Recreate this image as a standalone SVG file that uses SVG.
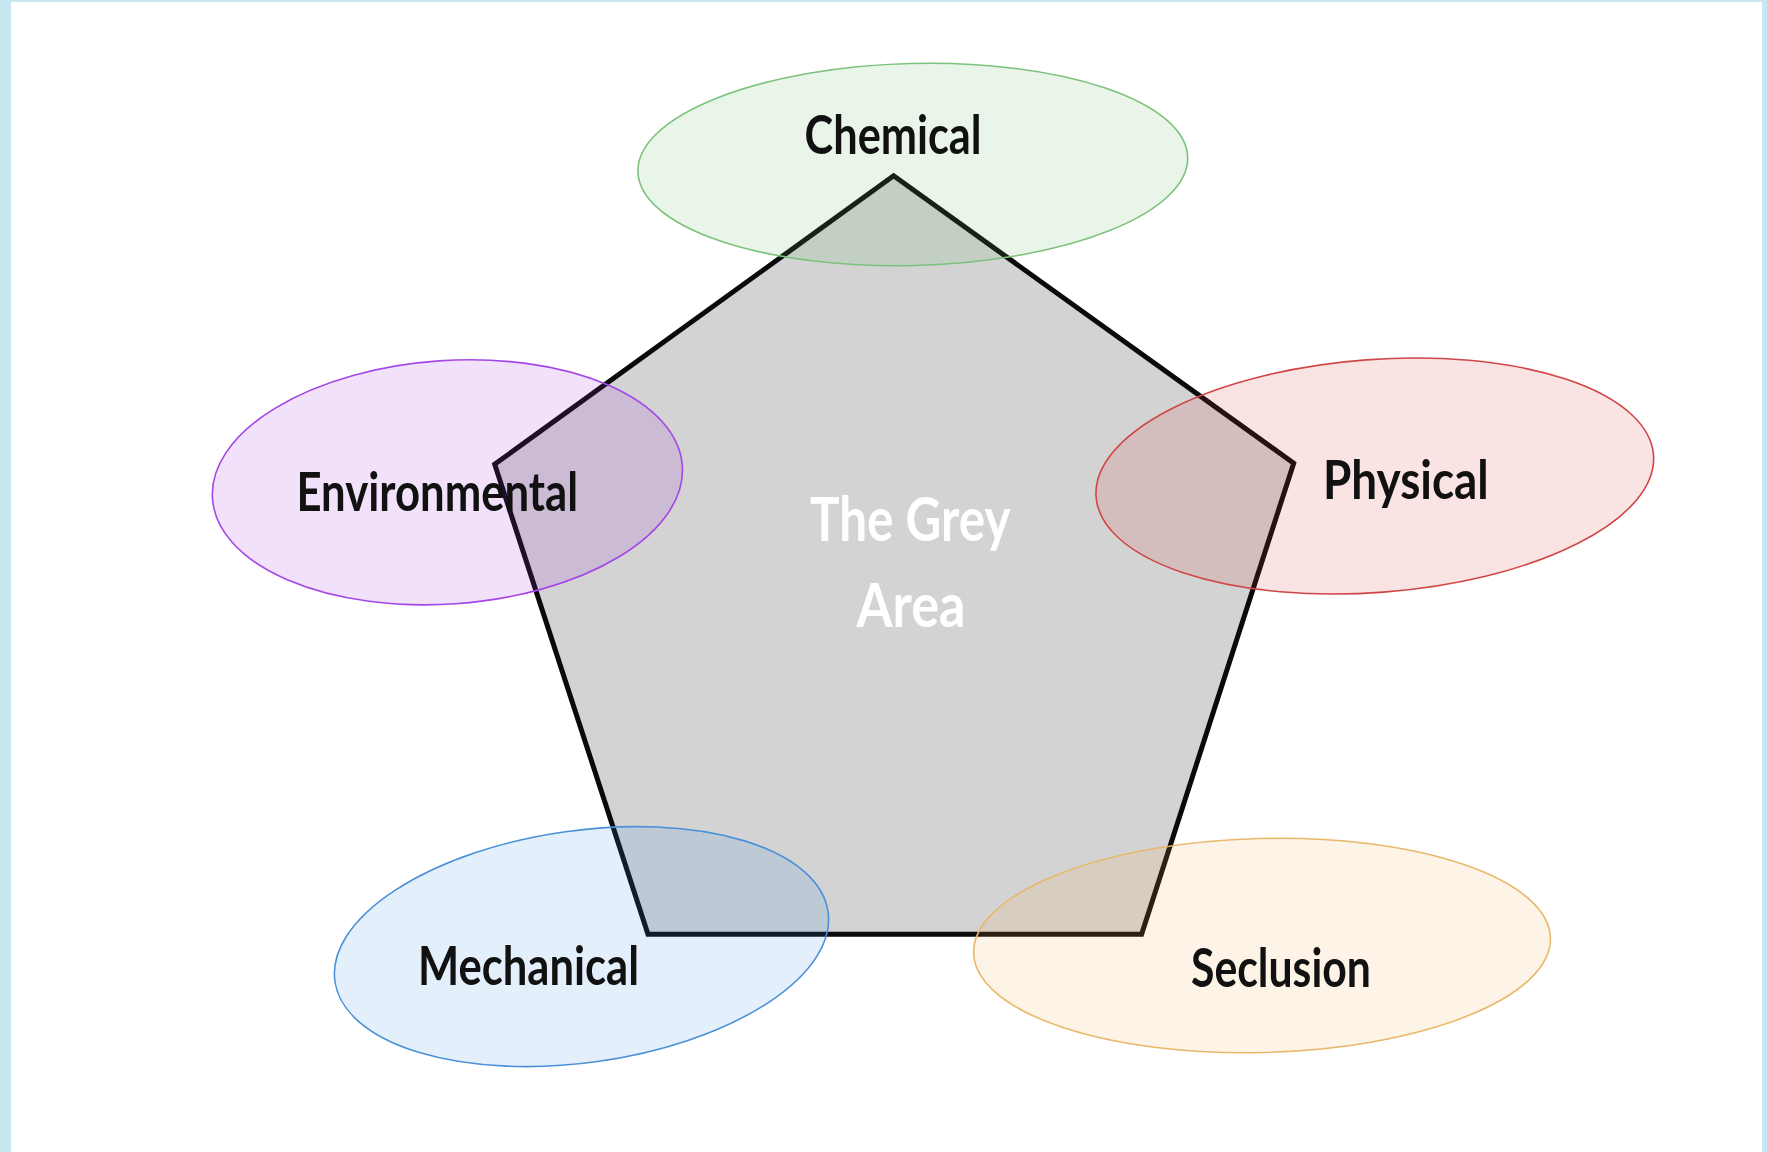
<svg xmlns="http://www.w3.org/2000/svg" width="1767" height="1152" viewBox="0 0 1767 1152">
<style>
.lbl{font-family:"Lato","Liberation Sans",sans-serif;font-weight:bold;font-size:54px;fill:#111;}
.grey{font-family:"Lato","Liberation Sans",sans-serif;font-weight:bold;font-size:62px;fill:#ffffff;}
.ell{stroke-width:1.6;fill-opacity:0.14;}
</style>
<rect x="0" y="0" width="1767" height="1152" fill="#c6e7f0"/>
<rect x="11" y="2" width="1751" height="1150" fill="#ffffff"/>
<g id="grey-area">
<polygon points="893.6,175.8 1293.7,463.2 1141.6,934.2 648,934.2 494.7,464.3" fill="#d3d3d3" stroke="#0a0a0a" stroke-width="5" stroke-linejoin="miter"/>
</g>
<g id="chemical">
<ellipse class="ell" cx="912.8" cy="164.5" rx="275" ry="101" transform="rotate(-1.5 912.8 164.5)" fill="#5cb85c" stroke="#7cc27c"/>
<text class="lbl" x="804.6" y="154.4" textLength="177" lengthAdjust="spacingAndGlyphs">Chemical</text>
</g>
<g id="environmental">
<ellipse class="ell" cx="447.4" cy="482.3" rx="235.5" ry="121.7" transform="rotate(-4 447.4 482.3)" fill="#a228db" stroke="#a447e6"/>
<text class="lbl" x="296.4" y="510.5" textLength="281.7" lengthAdjust="spacingAndGlyphs">Environmental</text>
</g>
<g id="physical">
<ellipse class="ell" cx="1374.8" cy="476" rx="279.5" ry="116.5" transform="rotate(-4.3 1374.8 476)" fill="#d43c3c" stroke="#d04545"/>
<text class="lbl" x="1323" y="499" textLength="165.7" lengthAdjust="spacingAndGlyphs">Physical</text>
</g>
<g id="mechanical">
<ellipse class="ell" cx="581.5" cy="946.6" rx="249" ry="116" transform="rotate(-8 581.5 946.6)" fill="#3c8ce6" stroke="#4a90d9"/>
<text class="lbl" x="418" y="985" textLength="221" lengthAdjust="spacingAndGlyphs">Mechanical</text>
</g>
<g id="seclusion">
<ellipse class="ell" cx="1262" cy="945.5" rx="288.5" ry="107" transform="rotate(-1.5 1262 945.5)" fill="#f0a850" stroke="#e9b86a"/>
<text class="lbl" x="1191" y="987" textLength="180" lengthAdjust="spacingAndGlyphs">Seclusion</text>
</g>
<g id="grey-area-label">
<text class="grey" x="810" y="541" textLength="200.6" lengthAdjust="spacingAndGlyphs">The Grey</text>
<text class="grey" x="856.5" y="626.5" textLength="109" lengthAdjust="spacingAndGlyphs">Area</text>
</g>
</svg>
